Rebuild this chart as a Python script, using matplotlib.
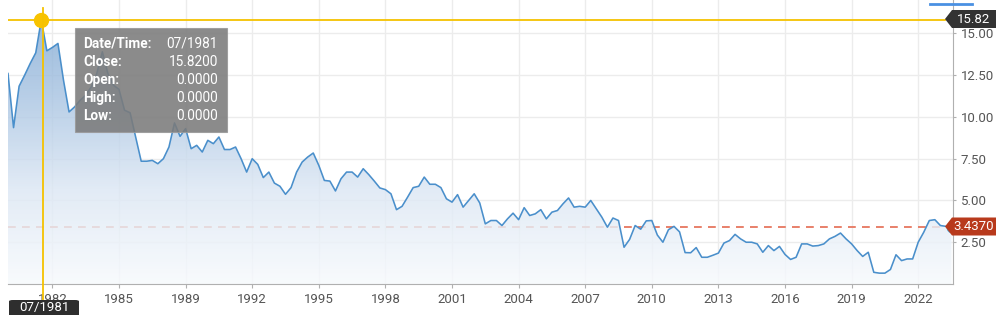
import numpy as np
import matplotlib
matplotlib.use("Agg")
import matplotlib.pyplot as plt
from matplotlib.patches import Polygon, FancyBboxPatch
from matplotlib.colors import LinearSegmentedColormap
from matplotlib.lines import Line2D

plt.rcParams['font.family'] = ['Roboto', 'DejaVu Sans']

# ---- data (quarterly closes) ----
values = [12.6, 9.36, 11.84, 12.5, 13.2, 13.84, 15.82, 13.96, 14.16, 14.4,
          12.2, 10.3, 10.6, 11.0, 11.3, 11.8, 12.6, 13.9, 12.6, 11.9,
          11.65, 10.4, 10.25, 8.8, 7.35, 7.35, 7.4, 7.2, 7.5, 8.2,
          9.64, 8.84, 9.3, 8.1, 8.3, 7.9, 8.6, 8.4, 8.8, 8.05,
          8.05, 8.2, 7.5, 6.7, 7.5, 7.16, 6.37, 6.7, 6.04, 5.85,
          5.37, 5.77, 6.7, 7.3, 7.6, 7.84, 7.1, 6.2, 6.16, 5.57,
          6.3, 6.7, 6.7, 6.4, 6.9, 6.55, 6.16, 5.75, 5.65, 5.4,
          4.45, 4.65, 5.2, 5.77, 5.85, 6.4, 5.97, 5.97, 5.77, 5.1,
          4.9, 5.35, 4.6, 5.0, 5.4, 4.85, 3.6, 3.8, 3.8, 3.5,
          3.9, 4.24, 3.85, 4.57, 4.1, 4.2, 4.45, 3.9, 4.3, 4.4,
          4.8, 5.15, 4.6, 4.65, 4.6, 5.0, 4.5, 4.0, 3.4, 3.95,
          3.8, 2.2, 2.67, 3.5, 3.28, 3.78, 3.8, 2.93, 2.5, 3.25,
          3.45, 3.12, 1.88, 1.87, 2.18, 1.6, 1.6, 1.72, 1.85, 2.45,
          2.6, 2.97, 2.7, 2.5, 2.5, 2.4, 1.9, 2.3, 2.0, 2.25,
          1.77, 1.47, 1.6, 2.4, 2.4, 2.27, 2.3, 2.4, 2.7, 2.85,
          3.05, 2.7, 2.4, 2.0, 1.65, 1.9, 0.7, 0.65, 0.65, 0.87,
          1.75, 1.4, 1.5, 1.5, 2.5, 3.1, 3.8, 3.85, 3.5, 3.45,
          3.437]
xtick_idx = [8, 20, 32, 44, 56, 68, 80, 92, 104, 116, 128, 140, 152, 164]
xtick_labels = ['1982', '1985', '1989', '1992', '1995', '1998', '2001',
                '2004', '2007', '2010', '2013', '2016', '2019', '2022']
ytick_vals = [2.5, 5.0, 7.5, 10.0, 12.5, 15.0]
ytick_labels = ['2.50', '5.00', '7.50', '10.00', '12.50', '15.00']
last_value = 3.437
hover_idx = 6
hover_date = '07/1981'
hover_close = 15.82
tooltip_rows = [('Date/Time:', '07/1981'), ('Close:', '15.8200'),
                ('Open:', '0.0000'), ('High:', '0.0000'), ('Low:', '0.0000')]

W, H = 1000, 315
fig = plt.figure(figsize=(W / 100, H / 100), dpi=100)
fig.patch.set_facecolor('white')

def fx(px):
    return px / W

def fy(py):
    return 1 - py / H

ax = fig.add_axes([fx(8), fy(284), fx(953) - fx(8), fy(0) - fy(284)])
x = np.arange(len(values))
y = np.array(values)
ax.set_xlim(0, 170.27)
ax.set_ylim(0, 17.0)

# grid
for t in xtick_idx:
    ax.axvline(t, color='#ececec', lw=1.0, zorder=0)
for v in ytick_vals:
    ax.axhline(v, color='#ececec', lw=1.0, zorder=0)

# dashed last-value line (under the fill)
ax.axhline(last_value, color='#e8806a', lw=1.4, ls=(0, (4, 3.2)), zorder=1)

# gradient fill
verts = [(x[0], 0)] + list(zip(x, y)) + [(x[-1], 0)]
poly = Polygon(verts, closed=True, facecolor='none', edgecolor='none')
ax.add_patch(poly)
grad = np.linspace(0, 1, 256).reshape(-1, 1)
cmap = LinearSegmentedColormap.from_list('g', ['#f7fafd', '#dce7f4', '#a8c4e2', '#7ba5d1'])
im = ax.imshow(grad, extent=[x[0], x[-1], 0, 17], origin='lower', aspect='auto',
               cmap=cmap, zorder=2, alpha=0.82, interpolation='bicubic')
im.set_clip_path(poly)

ax.plot(x, y, color='#4a8fcb', lw=1.15, zorder=3, solid_joinstyle='round')

# axes styling
for s in ['top', 'left']:
    ax.spines[s].set_visible(False)
ax.spines['bottom'].set_color('#b0b0b0')
ax.spines['right'].set_color('#b0b0b0')
ax.yaxis.tick_right()
ax.set_yticks(ytick_vals)
ax.set_yticklabels(ytick_labels)
ax.set_xticks(xtick_idx)
ax.set_xticklabels(xtick_labels)
ax.tick_params(axis='y', length=2.5, width=0.8, color='#b0b0b0', pad=3,
               labelsize=9.5, labelcolor='#555555')
ax.tick_params(axis='x', length=3, width=0.8, color='#b0b0b0', pad=3.5,
               labelsize=9.5, labelcolor='#555555')

# crosshair
ax.axhline(hover_close, xmin=0, xmax=937 / 945, color='#f5c200', lw=1.3, zorder=5)
fig.add_artist(Line2D([fx(42.5), fx(42.5)], [fy(8), fy(301)], color='#f5c200', lw=1.3, zorder=5))
ax.plot([hover_idx], [hover_close], 'o', ms=10, color='#f8c300', zorder=6, clip_on=False)

# last point dot
ax.plot([x[-1]], [last_value], 'o', ms=8, color='#5ac5f5', mec='#4aa8e0', mew=0.6, zorder=8, clip_on=False)

# tooltip
tt = FancyBboxPatch((fx(75), fy(132)), fx(227) - fx(75), fy(28) - fy(132),
                    boxstyle='square,pad=0', transform=fig.transFigure,
                    facecolor='#7b7b7b', edgecolor='#9a9a9a', lw=0.8, alpha=0.88, zorder=10)
fig.add_artist(tt)
for k, (lab, val) in enumerate(tooltip_rows):
    ty = 44 + k * 18
    fig.text(fx(83), fy(ty), lab, color='white', fontsize=9.8, fontweight='bold',
             va='center', ha='left', zorder=11)
    fig.text(fx(218), fy(ty), val, color='white', fontsize=9.8,
             va='center', ha='right', zorder=11)

# bottom date label
db = FancyBboxPatch((fx(9), fy(316)), fx(79) - fx(9), fy(300) - fy(316),
                    boxstyle='round,pad=0,rounding_size=0.004', transform=fig.transFigure,
                    facecolor='#2e2e2e', edgecolor='none', zorder=10, clip_on=False)
fig.add_artist(db)
fig.text(fx(44), fy(308), hover_date, color='white', fontsize=9.5, ha='center', va='center', zorder=11)

# right side value labels
def side_label(py, text, color):
    pts = [(945, py), (952, py - 9), (996, py - 9), (996, py + 9), (952, py + 9)]
    p = Polygon([(fx(a), fy(b)) for a, b in pts], closed=True, transform=fig.transFigure,
                facecolor=color, edgecolor='none', zorder=9)
    fig.add_artist(p)
    fig.text(fx(974), fy(py + 0.5), text, color='white', fontsize=9.5, ha='center', va='center', zorder=12)

side_label(19, f'{hover_close:.2f}', '#333333')
side_label(226.5, f'{last_value:.4f}', '#b83a1c')

# small blue marker at top right
fig.add_artist(Line2D([fx(930), fx(972)], [fy(4), fy(4)], color='#4a90e2', lw=2))

fig.savefig('out.png', dpi=100)
